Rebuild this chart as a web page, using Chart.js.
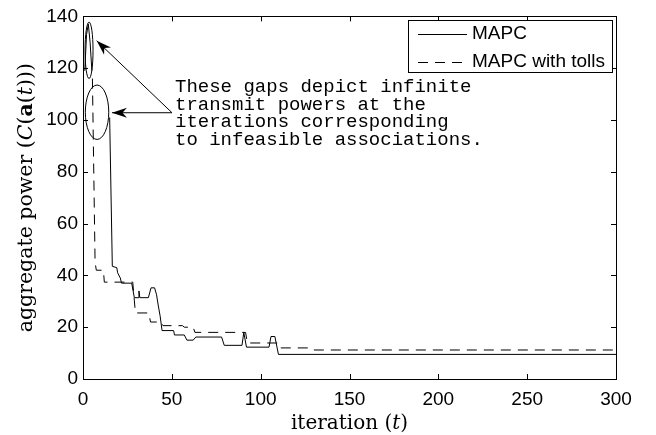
<!DOCTYPE html>
<html>
<head>
<meta charset="utf-8">
<script src="https://cdn.jsdelivr.net/npm/chart.js@4/dist/chart.umd.min.js"></script>
<style>
    html, body { margin: 0; padding: 0; background: #fff; }
    #wrap { width: 656px; height: 435px; }
</style>
</head>
<body>
<div id="wrap"><canvas id="powerChart" width="656" height="435"></canvas></div>
<script>
// Iterations (t) and aggregate power C(a(t)); null = infinite power (gap)
const mapcIter  = [1, 2, 3, 4, 5, 6, 15, 16.5, 19, 19.5, 21, 21.7, 27.4, 28.9, 31, 31.5, 32, 36.8, 38.3, 40.3, 41.4, 42.4, 43.4, 44.5, 51, 51.5, 57, 58.5, 62, 63.5, 78, 79.5, 89.5, 90.5, 92, 104.7, 105.8, 108, 110, 300];
const mapcPower = [119, 133, 137, 130, 119, null, 101, 43.5, 43, 41, 39, 37, 37, 31.4, 31.4, 34, 31.4, 31.4, 35.2, 35.2, 32.5, 28.2, 24.4, 18.7, 18.7, 17, 17, 15, 15, 16.2, 16.2, 13, 13, 18, 12.3, 12.3, 16.4, 16.4, 9.5, 9.5];

const tollsIter  = [5.3, 6.8, 7.5, 11.5, 12, 28, 29.5, 37, 38, 44, 45, 56, 57, 62, 63, 91.5, 92.5, 109.5, 110.5, 129, 130, 300];
const tollsPower = [116, 45, 42, 42, 37.4, 37.4, 25.5, 25.5, 22, 22, 20.6, 20.6, 20, 20, 18, 18, 13.9, 13.9, 12, 12, 11.2, 11.2];

const seriesNames = ['MAPC', 'MAPC with tolls'];
const xTicks = [0, 50, 100, 150, 200, 250, 300];
const yTicks = [0, 20, 40, 60, 80, 100, 120, 140];

const noteLines = [
    'These gaps depict infinite',
    'transmit powers at the',
    'iterations corresponding',
    'to infeasible associations.'
];

// annotation placement, in data units
const gapEllipses = [
    { cx: 3.4, cy: 126.9, rx: 2.25, ry: 10.9 },
    { cx: 7.9, cy: 103, rx: 6.6, ry: 10.5 }
];
const arrowFrom = { x: 50.1, y: 102.8 };
const arrowTips = [{ x: 7.7, y: 130.6 }, { x: 16.3, y: 102.8 }];

const toPoints = (xs, ys) => xs.map((x, i) => ({ x: x, y: ys[i] }));

const sansFont = '"Liberation Sans", Arial, sans-serif';
const serifFont = '"DejaVu Serif", serif';

// draws text made of runs with different fonts, centred on (0,0)
function drawRuns(ctx, runs) {
    let total = 0;
    runs.forEach(r => { ctx.font = r.font; r.w = ctx.measureText(r.text).width; total += r.w; });
    let x = -total / 2;
    runs.forEach(r => { ctx.font = r.font; ctx.fillText(r.text, x, 0); x += r.w; });
}

function drawArrowHead(ctx, x0, y0, x1, y1) {
    const ang = Math.atan2(y1 - y0, x1 - x0);
    const len = 15, half = 5;
    ctx.save();
    ctx.translate(x1, y1);
    ctx.rotate(ang);
    ctx.beginPath();
    ctx.moveTo(0, 0);
    ctx.lineTo(-len, -half);
    ctx.lineTo(-len * 0.7, 0);
    ctx.lineTo(-len, half);
    ctx.closePath();
    ctx.fill();
    ctx.restore();
}

const matlabFrame = {
    id: 'matlabFrame',
    afterDraw(chart) {
        const ctx = chart.ctx;
        const a = chart.chartArea;
        const xs = chart.scales.x, ys = chart.scales.y;
        ctx.save();
        ctx.strokeStyle = '#000';
        ctx.fillStyle = '#000';
        ctx.lineWidth = 1;

        // box + inward ticks on all sides
        ctx.strokeRect(Math.round(a.left) + 0.5, Math.round(a.top) + 0.5, Math.round(a.right - a.left), Math.round(a.bottom - a.top));
        ctx.beginPath();
        xTicks.forEach(v => {
            const px = Math.round(xs.getPixelForValue(v)) + 0.5;
            ctx.moveTo(px, a.bottom); ctx.lineTo(px, a.bottom - 5);
            ctx.moveTo(px, a.top); ctx.lineTo(px, a.top + 5);
        });
        yTicks.forEach(v => {
            const py = Math.round(ys.getPixelForValue(v)) + 0.5;
            ctx.moveTo(a.left, py); ctx.lineTo(a.left + 5, py);
            ctx.moveTo(a.right, py); ctx.lineTo(a.right - 5, py);
        });
        ctx.stroke();

        // axis titles
        ctx.textBaseline = 'alphabetic';
        ctx.save();
        ctx.translate((a.left + a.right) / 2, 429);
        drawRuns(ctx, [
            { text: 'iteration (', font: '20px ' + serifFont },
            { text: 't', font: 'italic 20px ' + serifFont },
            { text: ')', font: '20px ' + serifFont }
        ]);
        ctx.restore();
        ctx.save();
        ctx.translate(32, (a.top + a.bottom) / 2);
        ctx.rotate(-Math.PI / 2);
        drawRuns(ctx, [
            { text: 'aggregate power (', font: '20.5px ' + serifFont },
            { text: 'C', font: 'italic 20.5px ' + serifFont },
            { text: '(', font: '20.5px ' + serifFont },
            { text: 'a', font: 'bold 20.5px ' + serifFont },
            { text: '(', font: '20.5px ' + serifFont },
            { text: 't', font: 'italic 20.5px ' + serifFont },
            { text: ')))', font: '20.5px ' + serifFont }
        ]);
        ctx.restore();

        // legend box
        const lx = 408, ly = 20, lw = 204, lh = 52;
        ctx.fillStyle = '#fff';
        ctx.fillRect(lx, ly, lw, lh);
        ctx.fillStyle = '#000';
        ctx.strokeRect(lx + 0.5, ly + 0.5, lw, lh);
        ctx.font = '19px ' + sansFont;
        ctx.textBaseline = 'middle';
        ctx.textAlign = 'left';
        chart.data.datasets.forEach((ds, i) => {
            const yy = ly + 13.5 + i * 28.5;
            ctx.setLineDash(ds.borderDash || []);
            ctx.beginPath();
            ctx.moveTo(418, Math.round(yy) + 0.5);
            ctx.lineTo(467, Math.round(yy) + 0.5);
            ctx.stroke();
            ctx.setLineDash([]);
            ctx.fillText(ds.label, 472, yy);
        });

        // gap annotation: ellipses, arrows, note
        const px = v => xs.getPixelForValue(v);
        const py = v => ys.getPixelForValue(v);
        gapEllipses.forEach(e => {
            const rx = Math.abs(px(e.cx + e.rx) - px(e.cx));
            const ry = Math.abs(py(e.cy + e.ry) - py(e.cy));
            ctx.beginPath();
            ctx.ellipse(px(e.cx), py(e.cy), rx, ry, 0, 0, Math.PI * 2);
            ctx.stroke();
        });
        const sx = px(arrowFrom.x), sy = py(arrowFrom.y);
        arrowTips.forEach(t => {
            const tx = px(t.x), ty = py(t.y);
            ctx.beginPath();
            ctx.moveTo(sx, sy);
            ctx.lineTo(tx, ty);
            ctx.stroke();
            drawArrowHead(ctx, sx, sy, tx, ty);
        });
        ctx.font = '19px "Liberation Mono", "DejaVu Sans Mono", monospace';
        ctx.textBaseline = 'middle';
        noteLines.forEach((line, i) => {
            ctx.fillText(line, sx + 3, 87 + i * 17.7);
        });
        ctx.restore();
    }
};

new Chart(document.getElementById('powerChart'), {
    type: 'line',
    data: {
        datasets: [{
            label: seriesNames[0],
            data: toPoints(mapcIter, mapcPower),
            borderColor: '#000',
            borderWidth: 1,
            pointRadius: 0,
            tension: 0,
            spanGaps: false
        }, {
            label: seriesNames[1],
            data: toPoints(tollsIter, tollsPower),
            borderColor: '#000',
            borderWidth: 1,
            borderDash: [10, 7],
            pointRadius: 0,
            tension: 0,
            spanGaps: false
        }]
    },
    options: {
        responsive: false,
        animation: false,
        events: [],
        layout: { padding: { left: 0, right: 40, top: 12, bottom: 0 } },
        plugins: {
            legend: { display: false },
            tooltip: { enabled: false }
        },
        scales: {
            x: {
                type: 'linear',
                min: 0,
                max: 300,
                afterFit: scale => { scale.height = 56; },
                afterBuildTicks: scale => { scale.ticks = xTicks.map(v => ({ value: v })); },
                grid: { display: false, drawTicks: false },
                border: { display: false },
                ticks: { color: '#000', padding: 9, maxRotation: 0, font: { family: sansFont, size: 19 } }
            },
            y: {
                type: 'linear',
                min: 0,
                max: 140,
                afterFit: scale => { scale.width = 83; },
                afterBuildTicks: scale => { scale.ticks = yTicks.map(v => ({ value: v })); },
                grid: { display: false, drawTicks: false },
                border: { display: false },
                ticks: { color: '#000', padding: 5, font: { family: sansFont, size: 19 } }
            }
        }
    },
    plugins: [matlabFrame]
});
</script>
</body>
</html>
